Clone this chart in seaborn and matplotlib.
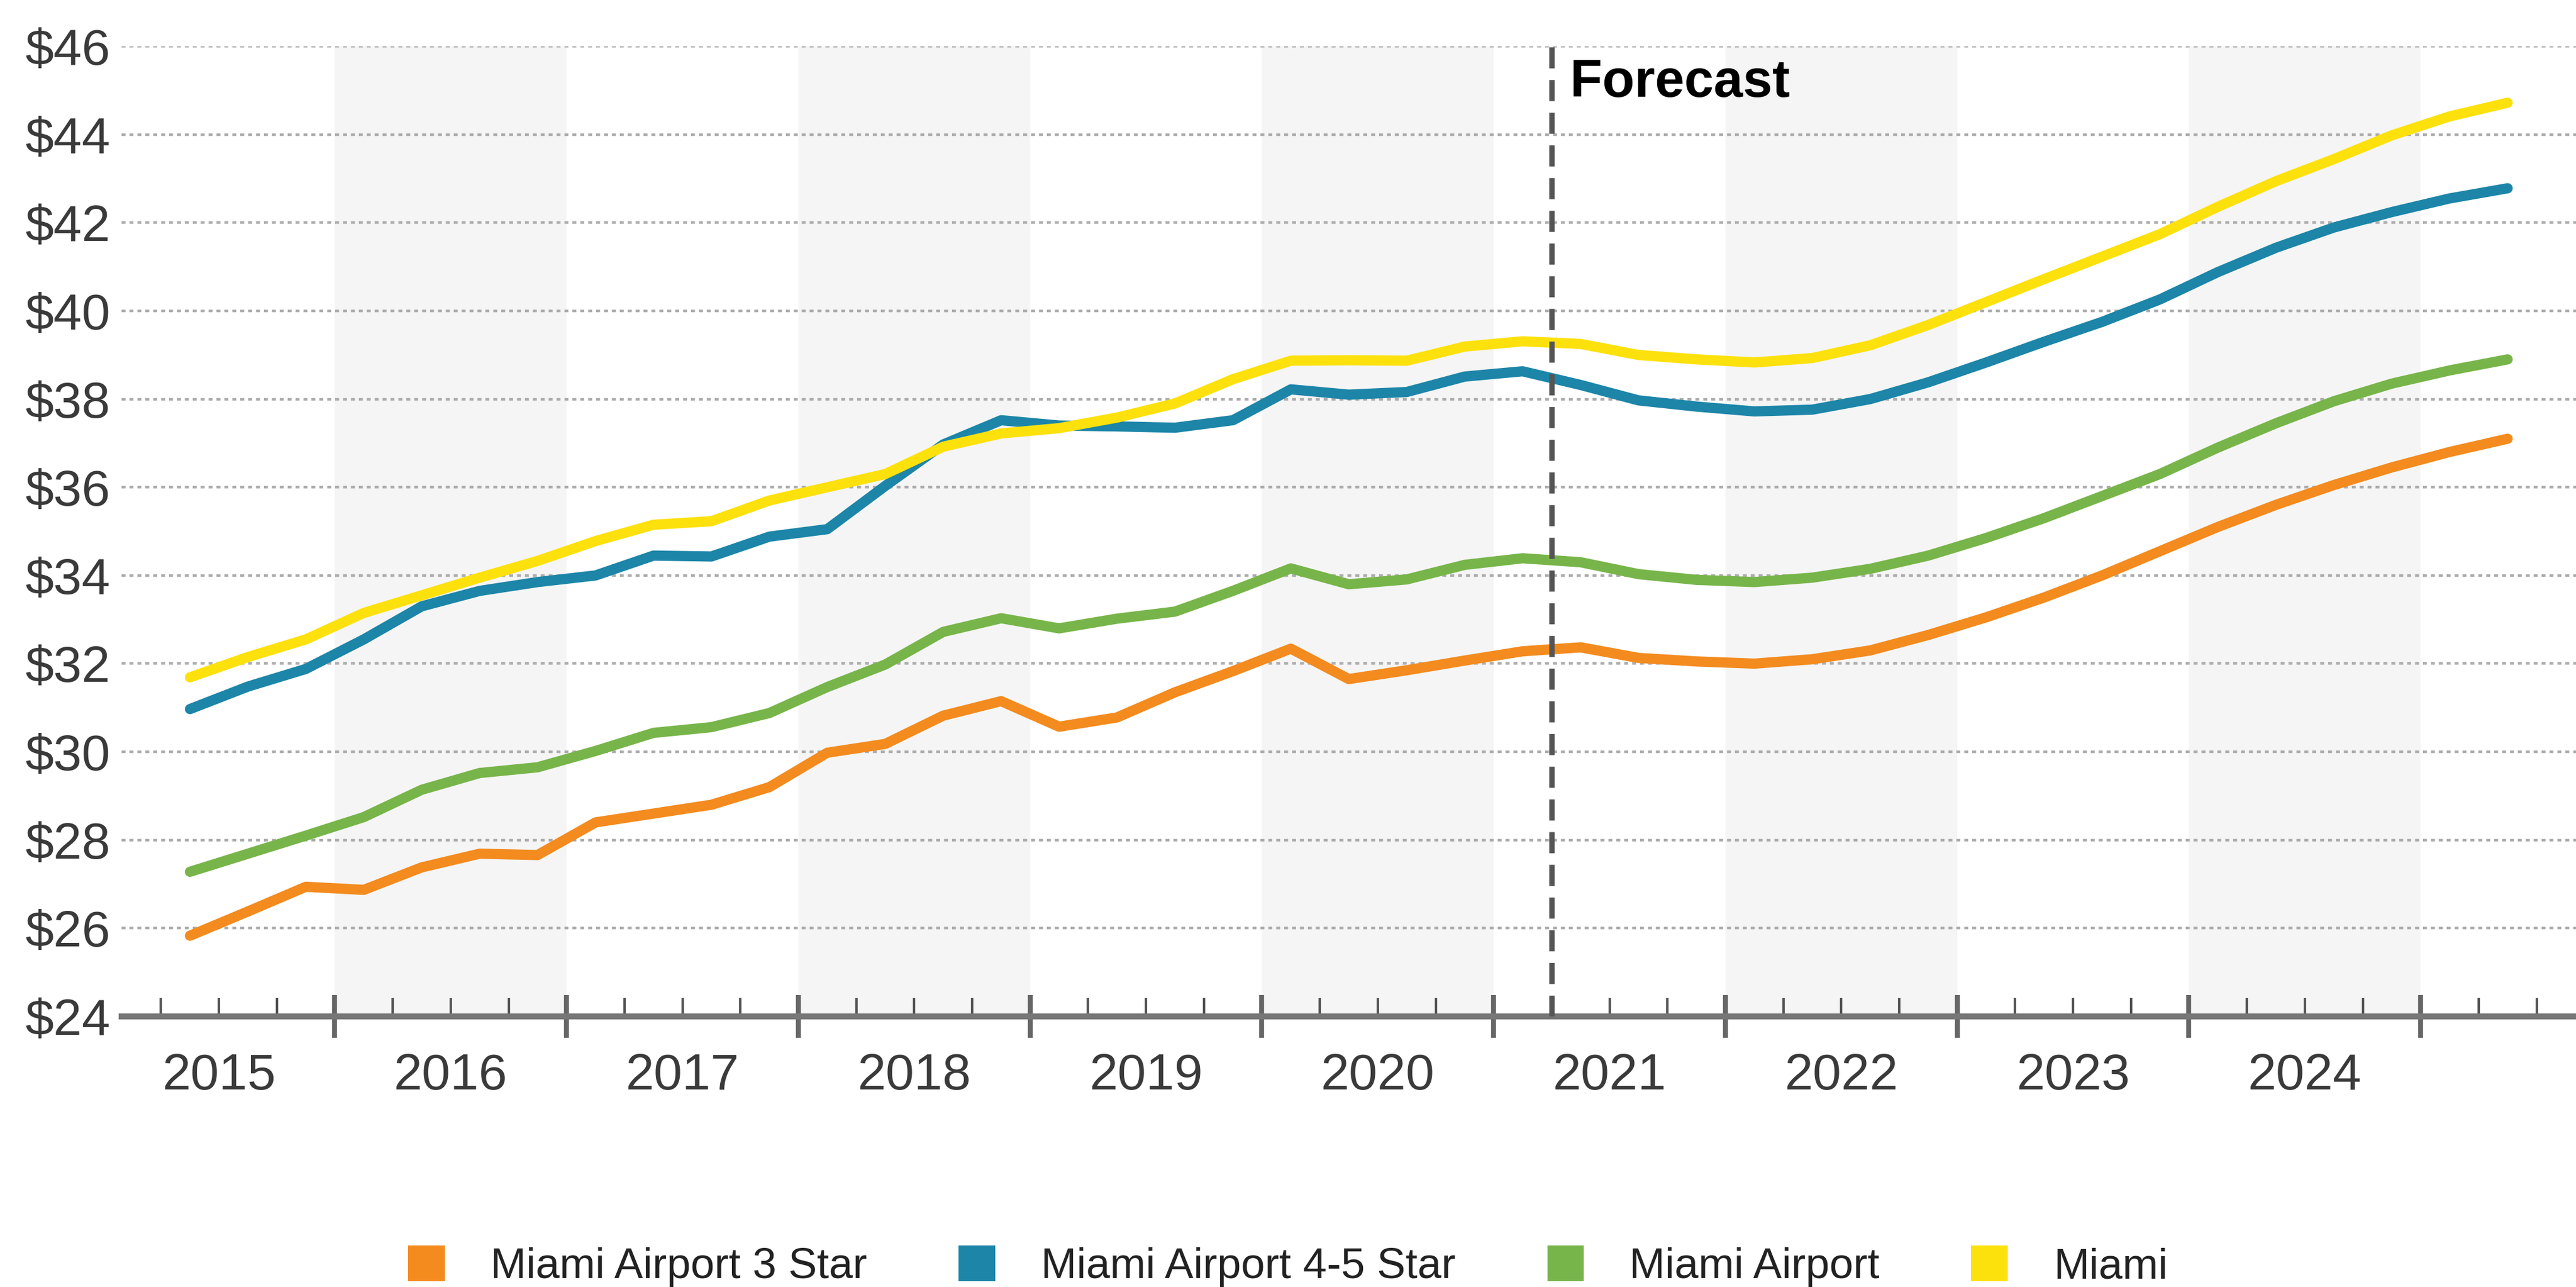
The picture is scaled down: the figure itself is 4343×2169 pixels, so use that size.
import matplotlib
matplotlib.use("Agg")
import matplotlib.pyplot as plt
import seaborn as sns
import pandas as pd
from matplotlib.patches import Patch
from matplotlib.ticker import MultipleLocator, FuncFormatter, NullLocator

# quarterly points, 2015 Q2 .. 2025 Q2 (forecast from 2021 Q2)
quarters = pd.period_range("2015Q2", "2025Q2", freq="Q")

series_names = ["Miami Airport 3 Star", "Miami Airport 4-5 Star", "Miami Airport", "Miami"]
series_colors = ["#F38B1F", "#1C85A8", "#77B54A", "#FDE10D"]

airport_3star = [25.83, 26.38, 26.94, 26.87, 27.38, 27.69, 27.66, 28.40, 28.60, 28.80,
                 29.20, 29.98, 30.18, 30.82, 31.15, 30.57, 30.78, 31.35, 31.83, 32.34,
                 31.65, 31.85, 32.07, 32.28, 32.37, 32.13, 32.05, 32.00, 32.10, 32.30,
                 32.65, 33.05, 33.50, 34.00, 34.55, 35.10, 35.60, 36.05, 36.45, 36.80,
                 37.10]
airport_45star = [30.97, 31.48, 31.88, 32.55, 33.30, 33.65, 33.85, 34.00, 34.45, 34.43,
                  34.88, 35.05, 36.03, 36.97, 37.52, 37.40, 37.38, 37.35, 37.52, 38.22,
                  38.10, 38.16, 38.51, 38.63, 38.32, 37.97, 37.83, 37.72, 37.76, 38.00,
                  38.38, 38.83, 39.30, 39.75, 40.26, 40.88, 41.43, 41.89, 42.24, 42.55,
                  42.78]
airport_all = [27.28, 27.69, 28.10, 28.52, 29.14, 29.52, 29.65, 30.02, 30.43, 30.56,
               30.88, 31.47, 31.98, 32.72, 33.03, 32.80, 33.02, 33.18, 33.65, 34.16,
               33.80, 33.91, 34.24, 34.39, 34.30, 34.03, 33.90, 33.85, 33.95, 34.15,
               34.45, 34.85, 35.30, 35.80, 36.30, 36.90, 37.45, 37.95, 38.35, 38.65,
               38.90]
miami = [31.69, 32.15, 32.55, 33.15, 33.55, 33.95, 34.33, 34.78, 35.15, 35.23,
         35.70, 36.00, 36.30, 36.92, 37.22, 37.34, 37.58, 37.90, 38.45, 38.87,
         38.88, 38.87, 39.19, 39.31, 39.25, 39.00, 38.90, 38.83, 38.93, 39.22,
         39.68, 40.20, 40.72, 41.23, 41.74, 42.36, 42.94, 43.44, 43.98, 44.41,
         44.72]

year_labels = list(range(2015, 2025))
shaded_years = [2016, 2018, 2020, 2022, 2024]
forecast_start = 2021.25

# decimal year at the middle of each quarter
xq = quarters.year + (quarters.quarter - 0.5) / 4

df = pd.DataFrame({"x": xq,
                   series_names[0]: airport_3star,
                   series_names[1]: airport_45star,
                   series_names[2]: airport_all,
                   series_names[3]: miami})
df = df.melt(id_vars="x", var_name="series", value_name="adr")

sns.set_theme(style="white")
plt.rcParams["font.family"] = ["Liberation Sans", "DejaVu Sans"]

W, H, DPI = 4343, 2169, 200
fig = plt.figure(figsize=(W / DPI, H / DPI), dpi=DPI)
ax = fig.add_axes([205 / W, (H - 1713) / H, 1 - 205 / W, (1713 - 78) / H])

for y0 in shaded_years:
    ax.axvspan(y0, y0 + 1, color="#f5f5f5", lw=0, zorder=0)

sns.lineplot(data=df, x="x", y="adr", hue="series", hue_order=series_names,
             palette=dict(zip(series_names, series_colors)), linewidth=6.2,
             legend=False, ax=ax, solid_capstyle="round")

ax.axvline(forecast_start, color="#555555", lw=3.2, linestyle=(0, (4, 2.2)), zorder=5)
ax.text(2021.33, 44.86, "Forecast", fontsize=32, fontweight="bold",
        color="black", va="baseline", ha="left")

ax.set_xlim(2015.08, 2025.67)
ax.set_ylim(24, 46)
ax.set_xlabel("")
ax.set_ylabel("")

ax.set_yticks(range(24, 47, 2))
ax.yaxis.set_major_formatter(FuncFormatter(lambda v, p: f"${v:.0f}"))
ax.yaxis.grid(True, linestyle=(0, (1.5, 1.5)), color="#adadad", linewidth=1.6)
ax.set_axisbelow(True)
ax.tick_params(axis="y", length=0, pad=7, labelsize=31, labelcolor="#3a3a3a")

ax.xaxis.set_major_locator(MultipleLocator(1))
ax.xaxis.set_minor_locator(MultipleLocator(0.25))
ax.tick_params(axis="x", which="major", bottom=True, direction="inout", length=26,
               width=3, color="#666666", labelbottom=False)
ax.tick_params(axis="x", which="minor", bottom=True, direction="in", length=11,
               width=1.5, color="#555555")

for side in ["left", "top", "right"]:
    ax.spines[side].set_visible(False)
ax.spines["bottom"].set_linewidth(3.6)
ax.spines["bottom"].set_color("#777777")

# year labels centred in each year
sec = ax.secondary_xaxis("bottom")
sec.set_xticks([y + 0.5 for y in year_labels], labels=[str(y) for y in year_labels])
sec.xaxis.set_minor_locator(NullLocator())
sec.tick_params(length=0, pad=22, labelsize=31, labelcolor="#3a3a3a")
sec.spines["bottom"].set_visible(False)

handles = [Patch(facecolor=c, edgecolor="none") for c in series_colors]
fig.legend(handles, series_names, loc="center", bbox_to_anchor=(0.5, 0.016), ncol=4,
           frameon=False, fontsize=26, handlelength=0.85, handleheight=0.9,
           handletextpad=1.07, columnspacing=2.14, borderpad=0, labelcolor="#222222")

fig.savefig("out.png", dpi=DPI)
